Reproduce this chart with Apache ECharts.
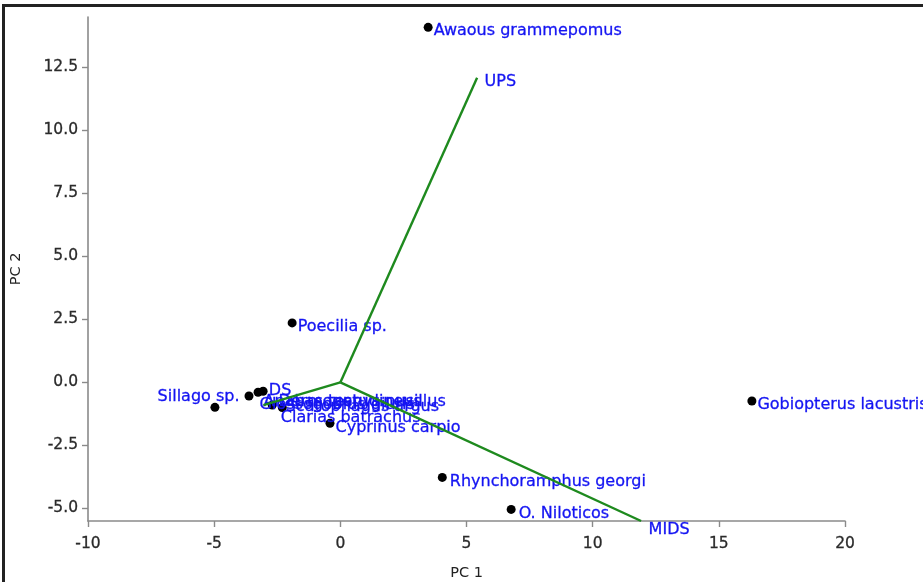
<!DOCTYPE html>
<html>
<head>
<meta charset="utf-8">
<script src="https://cdn.jsdelivr.net/npm/echarts@6/dist/echarts.min.js"></script>
<style>
  html, body { margin: 0; padding: 0; background: #fff; }
  #chart { width: 923px; height: 582px; }
</style>
</head>
<body>
<div id="chart"></div>
<script>
// PCA biplot: species scores (black dots) and habitat loadings (green vectors)

const speciesNames = [
  'Awaous grammepomus',
  'Poecilia sp.',
  'Sillago sp.',
  'Dermogenys pusillus',
  'Glossogobius giuris',
  'Anabas testudineus',
  'Scatophagus argus',
  'Clarias batrachus',
  'Cyprinus carpio',
  'Rhynchoramphus georgi',
  'O. Niloticos',
  'Gobiopterus lacustris'
];
const pc1 = [3.48, -1.91, -3.62, -4.97, -3.26, -3.06, -2.70, -2.30, -0.41, 4.04, 6.77, 16.31];
const pc2 = [14.09, 2.36, -0.54, -0.99, -0.39, -0.35, -0.90, -1.00, -1.62, -3.77, -5.04, -0.74];

const loadingNames = ['UPS', 'DS', 'MIDS'];
const loadingPc1 = [5.42, -3.05, 11.92];
const loadingPc2 = [12.09, -0.90, -5.50];

const xTicks = [-10, -5, 0, 5, 10, 15, 20];
const yTicks = [-5, -2.5, 0, 2.5, 5, 7.5, 10, 12.5];

// label placement (side + pixel shift) so crowded names sit where the plot puts them
const labelSide = ['right', 'right', 'left', 'right', 'right', 'right', 'right', 'right', 'right', 'right', 'right', 'right'];
const labelShift = [[0, 4], [0, 4], [-4, 1], [58, -6], [-4, 13], [-5, 11], [8, 2], [-7, 10], [0, 5], [2, 4], [2, 4], [0, 4]];
const loadingShift = [[2, 4], [0, -14], [2, 9]];

const FONT = 'DejaVu Sans';
const LABEL_BLUE = '#1414f2';
const TICK_TEXT = '#2a2a2a';
const VECTOR_GREEN = '#1e8a1e';
const AXIS_GRAY = '#8a8a8a';

const speciesData = speciesNames.map((n, i) => ({
  name: n,
  value: [pc1[i], pc2[i]],
  label: {
    position: labelSide[i],
    offset: labelShift[i]
  }
}));

const vectorSeries = loadingNames.map((n, i) => ({
  type: 'line',
  name: n,
  z: 4,
  symbol: 'none',
  silent: true,
  lineStyle: { color: VECTOR_GREEN, width: 2.4 },
  data: [[0, 0], [loadingPc1[i], loadingPc2[i]]]
}));

const loadingLabelData = loadingNames.map((n, i) => ({
  name: n,
  value: [loadingPc1[i], loadingPc2[i]],
  label: { offset: loadingShift[i] }
}));

const blueText = {
  fontFamily: FONT,
  fontSize: 16,
  color: LABEL_BLUE,
  textBorderColor: LABEL_BLUE,
  textBorderWidth: 0.3
};

const tickText = {
  fontFamily: FONT,
  fontSize: 15.5,
  color: TICK_TEXT,
  textBorderColor: TICK_TEXT,
  textBorderWidth: 0.3
};

const chart = echarts.init(document.getElementById('chart'), null, { renderer: 'canvas' });

chart.setOption({
  animation: false,
  backgroundColor: '#ffffff',
  textStyle: { fontFamily: FONT },
  grid: { left: 88, right: 78, top: 17, bottom: 61, containLabel: false, outerBoundsMode: 'none' },
  xAxis: {
    type: 'value',
    min: -10,
    max: 20,
    interval: 5,
    name: 'PC 1',
    nameLocation: 'middle',
    nameGap: 45,
    nameTextStyle: { fontFamily: FONT, fontSize: 14.5, color: '#222' },
    axisLine: { onZero: false, lineStyle: { color: AXIS_GRAY, width: 1.6 } },
    axisTick: { show: true, length: 6, lineStyle: { color: AXIS_GRAY, width: 1.4 } },
    axisLabel: Object.assign({ margin: 15, customValues: xTicks }, tickText),
    splitLine: { show: false }
  },
  yAxis: {
    type: 'value',
    min: -5.5,
    max: 14.5,
    name: 'PC 2',
    nameLocation: 'middle',
    nameGap: 64,
    nameTextStyle: { fontFamily: FONT, fontSize: 14.5, color: '#222' },
    axisLine: { onZero: false, lineStyle: { color: AXIS_GRAY, width: 1.6 } },
    axisTick: { show: true, length: 6, customValues: yTicks, lineStyle: { color: AXIS_GRAY, width: 1.4 } },
    axisLabel: Object.assign({
      margin: 10,
      customValues: yTicks,
      formatter: v => v.toFixed(1)
    }, tickText),
    splitLine: { show: false }
  },
  series: [
    ...vectorSeries,
    {
      type: 'scatter',
      name: 'species',
      z: 2,
      symbol: 'circle',
      symbolSize: 9,
      itemStyle: { color: '#000', opacity: 1 },
      label: Object.assign({
        show: true,
        formatter: p => p.name,
        distance: 1
      }, blueText),
      data: speciesData
    },
    {
      type: 'scatter',
      name: 'loadings',
      z: 4,
      symbol: 'circle',
      symbolSize: 1,
      itemStyle: { color: 'rgba(0,0,0,0)', opacity: 1 },
      label: Object.assign({
        show: true,
        position: 'right',
        formatter: p => p.name,
        distance: 5
      }, blueText),
      data: loadingLabelData
    }
  ],
  graphic: [
    {
      type: 'polyline',
      silent: true,
      z: 100,
      shape: { points: [[3.5, 582], [3.5, 5.5], [923, 5.5]] },
      style: { stroke: '#222', lineWidth: 3, fill: null }
    }
  ]
});
</script>
</body>
</html>
